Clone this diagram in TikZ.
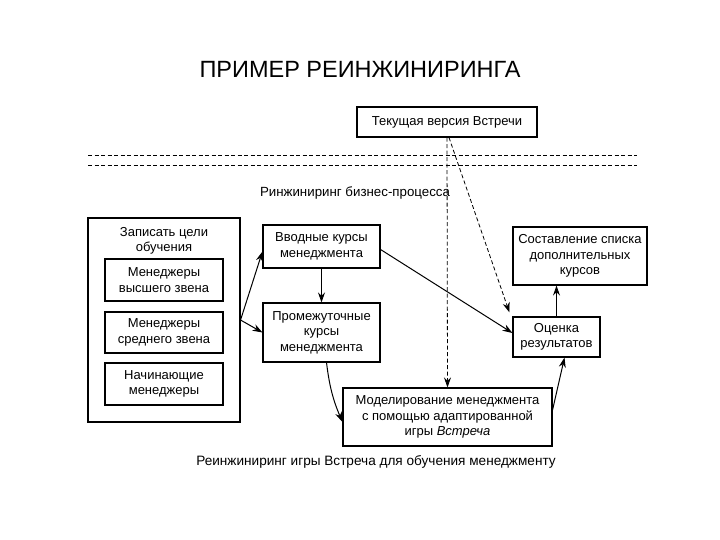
\documentclass[tikz,border=0pt]{standalone}
\usepackage{fontspec}
\setmainfont{Liberation Sans}
\usetikzlibrary{arrows.meta}
\begin{document}
\begin{tikzpicture}[x=1pt,y=-1pt,
  box/.style={draw,line width=1.1pt,align=center,inner sep=0pt,font=\fontsize{13}{15.5}\selectfont},
  arr/.style={line width=1pt,-{Stealth[length=10pt,width=7pt]}},
  dsh/.style={line width=0.8pt,dash pattern=on 4pt off 2.5pt}]
\useasboundingbox[fill=white] (0,0) rectangle (720,540);
\node[font=\fontsize{23.5}{28}\selectfont] (title) at (360,69) {ПРИМЕР РЕИНЖИНИРИНГА};
\node[box,minimum width=180,minimum height=30] (top) at (447,122) {Текущая версия Встречи};
\draw[dsh] (88,155) -- (637,155);
\draw[dsh] (88,165) -- (637,165);
\node[font=\fontsize{13.3}{15}\selectfont] (lbl) at (355,193) {Ринжиниринг бизнес-процесса};
\node[box,minimum width=152,minimum height=204] (big) at (164,320) {};
\node[font=\fontsize{13}{15.5}\selectfont,align=center] (goal) at (164,241) {Записать цели\\обучения};
\node[box,minimum width=118,minimum height=42] (m1) at (164,280) {Менеджеры\\высшего звена};
\node[box,minimum width=118,minimum height=41] (m2) at (164,332.5) {Менеджеры\\среднего звена};
\node[box,minimum width=118,minimum height=42] (m3) at (164,384) {Начинающие\\менеджеры};
\node[box,minimum width=117,minimum height=43] (vvod) at (321.5,246.5) {Вводные курсы\\менеджмента};
\node[box,minimum width=117,minimum height=59] (prom) at (321.5,332.5) {Промежуточные\\курсы\\менеджмента};
\node[box,minimum width=134,minimum height=58] (sost) at (580,256) {Составление списка\\дополнительных\\курсов};
\node[box,minimum width=87,minimum height=40] (ocen) at (556.5,337) {Оценка\\результатов};
\node[box,minimum width=209,minimum height=58] (model) at (447.5,417) {Моделирование менеджмента\\с помощью адаптированной\\игры \textit{Встреча}};
\node[font=\fontsize{13.6}{15}\selectfont] (cap) at (376,462) {Реинжиниринг игры Встреча для обучения менеджменту};
% connectors
\draw[arr] (big.east) -- ([yshift=-5pt]vvod.west);
\draw[arr] (big.east) -- (prom.west);
\draw[arr] (vvod.south) -- (prom.north);
\draw[arr] ([yshift=-3pt]vvod.east) -- ([yshift=4pt]ocen.west);
\draw[arr] (ocen.north) -- (ocen.north |- sost.south);
\draw[dsh,-{Stealth[length=10pt,width=7pt]}] (top.south) -- (model.north);
\draw[dsh,-{Stealth[length=10pt,width=7pt]}] ([xshift=2pt]top.south) -- ([shift={(-3pt,4pt)}]ocen.north west);
\draw[arr] ([xshift=5pt]prom.south) to[bend right=8] ([yshift=-5pt]model.west);
\draw[arr] ([yshift=7pt]model.east) -- ([xshift=8pt]ocen.south);
\end{tikzpicture}
\end{document}
